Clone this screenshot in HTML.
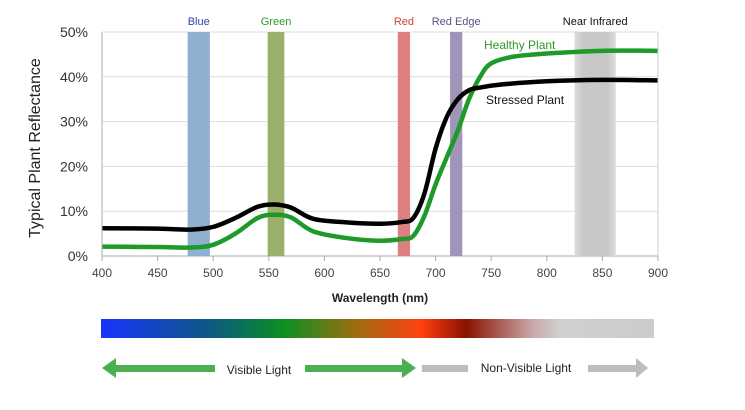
<!DOCTYPE html>
<html><head><meta charset="utf-8"><style>
body{margin:0;background:#fff;width:745px;height:405px;overflow:hidden;font-family:"Liberation Sans",sans-serif}
svg text{font-family:"Liberation Sans",sans-serif}
</style></head><body>
<svg id="chart" width="745" height="405" viewBox="0 0 745 405">
<defs>
<linearGradient id="spec" x1="0" x2="1" y1="0" y2="0">
<stop offset="0" stop-color="#1a33ff"/><stop offset="0.2" stop-color="#0c5a80"/><stop offset="0.33" stop-color="#0a9020"/><stop offset="0.47" stop-color="#a86a10"/><stop offset="0.58" stop-color="#ff4010"/><stop offset="0.66" stop-color="#8a1000"/><stop offset="0.78" stop-color="#c8a8a8"/><stop offset="0.83" stop-color="#d0d0d0"/><stop offset="1" stop-color="#cccccc"/>
</linearGradient>
<linearGradient id="nir" x1="0" x2="1"><stop offset="0" stop-color="#ddd"/><stop offset="0.2" stop-color="#c8c8c8"/><stop offset="0.8" stop-color="#c8c8c8"/><stop offset="1" stop-color="#ddd"/></linearGradient>
</defs>
<g id="grid"></g><g id="bands"></g><g id="lines"></g><g id="axes"></g>
<text x="40" y="148" transform="rotate(-90 40 148)" text-anchor="middle" font-size="16" fill="#222">Typical Plant Reflectance</text>
<text x="380" y="302" text-anchor="middle" font-size="12" font-weight="bold" fill="#222">Wavelength (nm)</text>
<text x="484" y="49" font-size="12" fill="#2a9a2a">Healthy Plant</text>
<text x="486" y="104" font-size="12" fill="#111">Stressed Plant</text>
<rect x="101" y="319" width="553" height="19" fill="url(#spec)"/>
<g>
<polygon points="102,368 116,358 116,365 215,365 215,372 116,372 116,378" fill="#4caf50"/>
<polygon points="305,365 402,365 402,358 416,368 402,378 402,372 305,372" fill="#4caf50"/>
</g>
<text x="259" y="374" text-anchor="middle" font-size="12" fill="#222">Visible Light</text>
<g>
<rect x="422" y="365" width="46" height="7" fill="#bdbdbd"/>
<polygon points="588,365 636,365 636,358 648,368 636,378 636,372 588,372" fill="#bdbdbd"/>
</g>
<text x="526" y="372" text-anchor="middle" font-size="12" fill="#222">Non-Visible Light</text>
</svg>
<script>
const wl=[400,450,480,500,520,540,555,570,590,620,650,670,680,690,700,710,720,730,740,760,800,850,900];
const stressed=[6.2,6.1,5.9,6.5,8.5,11,11.5,10.8,8.3,7.5,7.2,7.6,8.5,14,24,31,35,37,37.6,38.3,39,39.3,39.2];
const wlH=[400,450,480,500,520,540,555,570,590,620,650,670,680,690,700,710,720,730,740,750,770,800,850,900];
const healthy=[2.1,2.0,1.9,2.5,5,8.5,9.2,8.6,5.5,4,3.4,3.8,4.5,9,16,22,28,35,40,43,44.5,45.2,45.8,45.8];
const xTicks=[400,450,500,550,600,650,700,750,800,850,900];
const yTicks=[0,10,20,30,40,50];
const bandNames=["Blue","Green","Red","Red Edge","Near Infrared"];
const bandStart=[477,549,666,713,825];
const bandEnd=[497,564,677,724,862];
const bandColors=["#8fb0d0","#9bb06a","#de8080","#a094b8","url(#nir)"];
const labelColors=["#3040b0","#2a9a2a","#d04040","#605080","#111"];
const X0=102,X1=658,Y0=256,Y1=32;
const sx=v=>X0+(v-400)/500*(X1-X0);
const sy=v=>Y0-v/50*(Y0-Y1);
const NS="http://www.w3.org/2000/svg";
function mk(t,a,p){const e=document.createElementNS(NS,t);for(const k in a)e.setAttribute(k,a[k]);p.appendChild(e);return e;}
const grid=document.getElementById('grid'),bands=document.getElementById('bands'),lines=document.getElementById('lines'),axes=document.getElementById('axes');
yTicks.forEach(v=>{
 const l=mk('line',{x1:X0,x2:X1,y1:sy(v),y2:sy(v),stroke:v===0?'#aaa':'#ddd','stroke-width':1},grid);
 
 
 const t=mk('text',{x:X0-14,y:sy(v)+5,'text-anchor':'end','font-size':14,fill:'#333'},axes);t.textContent=v+'%';
 
 
});
mk('line',{x1:X0,x2:X0,y1:Y1,y2:Y0,stroke:'#aaa'},axes);
mk('line',{x1:X1,x2:X1,y1:Y1,y2:Y0,stroke:'#ccc'},axes);
xTicks.forEach(v=>{
 mk('line',{x1:sx(v),x2:sx(v),y1:Y0,y2:Y0+5,stroke:'#aaa'},axes);
 const t=mk('text',{x:sx(v),y:Y0+21,'text-anchor':'middle','font-size':12,fill:'#444'},axes);t.textContent=v;
 
 
});
bandNames.forEach((n,i)=>{
 const r=mk('rect',{x:sx(bandStart[i]),y:Y1,width:sx(bandEnd[i])-sx(bandStart[i]),height:Y0-Y1,fill:bandColors[i]},bands);
 
 
 const t=mk('text',{x:(sx(bandStart[i])+sx(bandEnd[i]))/2,y:25,'text-anchor':'middle','font-size':11,fill:labelColors[i]},axes);t.textContent=n;
 
 
});
function path(xs,ys){
 const p=xs.map((x,i)=>[sx(x),sy(ys[i])]);let d='M'+p[0];
 for(let i=0;i<p.length-1;i++){const a=p[i-1]||p[i],b=p[i],c=p[i+1],e=p[i+2]||c;
  d+=` C${b[0]+(c[0]-a[0])/6},${b[1]+(c[1]-a[1])/6} ${c[0]-(e[0]-b[0])/6},${c[1]-(e[1]-b[1])/6} ${c[0]},${c[1]}`;}
 return d;}
const h=mk('path',{d:path(wlH,healthy),fill:'none',stroke:'#1e9a28','stroke-width':4.5,'stroke-linejoin':'round'},lines);


const s=mk('path',{d:path(wl,stressed),fill:'none',stroke:'#000','stroke-width':4.5,'stroke-linejoin':'round'},lines);


</script>
</body></html>
